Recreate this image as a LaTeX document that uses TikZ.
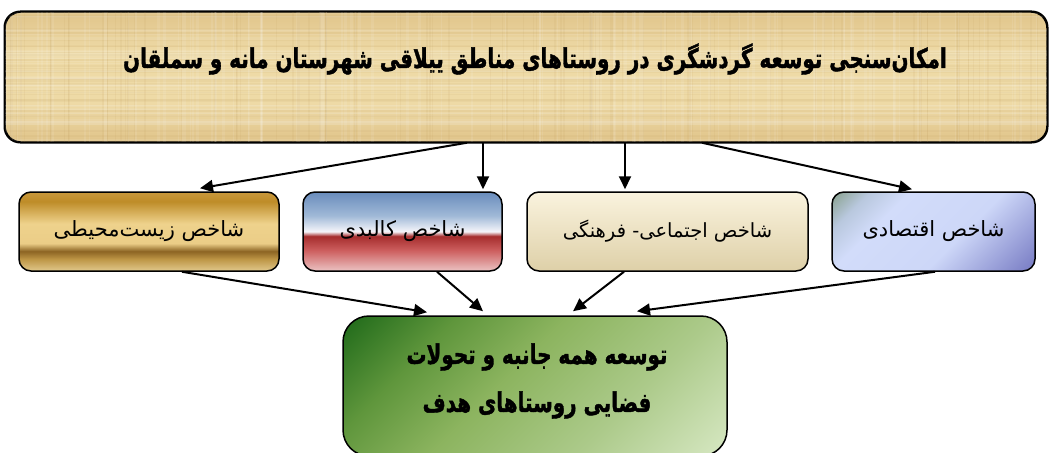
\documentclass[tikz,border=0pt]{standalone}
\usepackage{fontspec}
\usepackage{graphicx}
\usetikzlibrary{arrows.meta}
\TeXXeTstate=1
\newfontfamily\fa[Script=Arabic]{DejaVu Sans}
\newfontfamily\fab[Script=Arabic, FakeBold=1.6]{DejaVu Sans Bold}
\definecolor{papA}{RGB}{224,196,138}
\definecolor{papB}{RGB}{238,218,166}
\definecolor{papdark}{RGB}{185,150,85}
\pgfdeclareverticalshading{papyrus}{100bp}{color(0bp)=(papA); color(25bp)=(papA); color(40bp)=(papB); color(60bp)=(papB); color(75bp)=(papA); color(100bp)=(papA)}
\pgfdeclareverticalshading{goldsh}{100bp}{%
 color(0bp)=(rgb,255:red,225;green,200;blue,140);
 color(25bp)=(rgb,255:red,225;green,200;blue,140);
 color(32.5bp)=(rgb,255:red,190;green,150;blue,70);
 color(37.5bp)=(rgb,255:red,140;green,100;blue,35);
 color(42.5bp)=(rgb,255:red,235;green,205;blue,135);
 color(55bp)=(rgb,255:red,238;green,210;blue,140);
 color(69bp)=(rgb,255:red,190;green,140;blue,40);
 color(75bp)=(rgb,255:red,200;green,152;blue,60);
 color(100bp)=(rgb,255:red,200;green,152;blue,60)}
\pgfdeclareverticalshading{flagsh}{100bp}{%
 color(0bp)=(rgb,255:red,235;green,195;blue,195);
 color(25bp)=(rgb,255:red,235;green,195;blue,195);
 color(38bp)=(rgb,255:red,205;green,95;blue,95);
 color(47bp)=(rgb,255:red,165;green,45;blue,45);
 color(50bp)=(rgb,255:red,245;green,245;blue,250);
 color(60bp)=(rgb,255:red,160;green,185;blue,215);
 color(75bp)=(rgb,255:red,105;green,140;blue,188);
 color(100bp)=(rgb,255:red,105;green,140;blue,188)}
\pgfdeclareverticalshading{creamsh}{100bp}{%
 color(0bp)=(rgb,255:red,222;green,208;blue,168);
 color(25bp)=(rgb,255:red,222;green,208;blue,168);
 color(75bp)=(rgb,255:red,250;green,243;blue,222);
 color(100bp)=(rgb,255:red,250;green,243;blue,222)}
\pgfdeclarehorizontalshading{lavsh}{100bp}{%
 color(0bp)=(rgb,255:red,135;green,160;blue,140);
 color(14.6bp)=(rgb,255:red,135;green,160;blue,140);
 color(24bp)=(rgb,255:red,185;green,200;blue,222);
 color(34bp)=(rgb,255:red,210;green,220;blue,250);
 color(58bp)=(rgb,255:red,205;green,215;blue,248);
 color(85.4bp)=(rgb,255:red,118;green,122;blue,195);
 color(100bp)=(rgb,255:red,118;green,122;blue,195)}
\pgfdeclarehorizontalshading{greensh}{100bp}{%
 color(0bp)=(rgb,255:red,30;green,105;blue,25);
 color(14.6bp)=(rgb,255:red,30;green,105;blue,25);
 color(30bp)=(rgb,255:red,95;green,150;blue,60);
 color(45bp)=(rgb,255:red,140;green,180;blue,95);
 color(65bp)=(rgb,255:red,172;green,202;blue,138);
 color(85.4bp)=(rgb,255:red,215;green,232;blue,195);
 color(100bp)=(rgb,255:red,215;green,232;blue,195)}
\tikzset{
  box/.style={draw=black, line width=1.5pt, rounded corners=12pt, inner sep=0pt},
  rowtext/.style={font=\fa\fontsize{21}{25}\selectfont, inner sep=0pt},
  bigtext/.style={font=\fab\fontsize{27}{32}\selectfont, inner sep=0pt},
  arr/.style={draw=black, line width=2pt, -{Triangle[length=13pt,width=12pt]}}
}
\newcommand{\cond}[1]{\scalebox{0.738}[1]{#1}}
\begin{document}
\begin{tikzpicture}[x=1pt,y=-1pt]
\useasboundingbox (0,0) rectangle (1051,452);
% top box with papyrus texture
\node[box, rounded corners=16pt, shading=papyrus, minimum width=1042pt, minimum height=130pt] (top) at (526,77) {};
\begin{scope}
\clip[rounded corners=16pt] (top.south west) rectangle (top.north east);
\pgfmathsetseed{11}
\foreach \i in {1,...,110}{
  \pgfmathsetmacro\xx{5+1042*rnd}
  \pgfmathsetmacro\ww{0.8+2.5*rnd}
  \draw[white, opacity=0.09, line width=\ww pt] (\xx,12) -- (\xx,142);
}
\foreach \i in {1,...,90}{
  \pgfmathsetmacro\xx{5+1042*rnd}
  \pgfmathsetmacro\ww{0.6+1.8*rnd}
  \draw[papdark, opacity=0.09, line width=\ww pt] (\xx,12) -- (\xx,142);
}
\foreach \i in {1,...,40}{
  \pgfmathsetmacro\yy{12+130*rnd}
  \pgfmathsetmacro\ww{0.8+2.5*rnd}
  \draw[white, opacity=0.09, line width=\ww pt] (5,\yy) -- (1047,\yy);
}
\foreach \i in {1,...,30}{
  \pgfmathsetmacro\yy{12+130*rnd}
  \pgfmathsetmacro\ww{0.6+1.8*rnd}
  \draw[papdark, opacity=0.08, line width=\ww pt] (5,\yy) -- (1047,\yy);
}
\end{scope}
\draw[line width=1.5pt, rounded corners=16pt] (top.south west) rectangle (top.north east);
% other boxes
\node[box, shading=goldsh, minimum width=260pt, minimum height=79pt] (b1) at (149,231.5) {};
\node[box, shading=flagsh, minimum width=199pt, minimum height=79pt] (b2) at (402.5,231.5) {};
\node[box, shading=creamsh, minimum width=281pt, minimum height=79pt] (b3) at (667.5,231.5) {};
\node[box, shading=lavsh, shading angle=-45, minimum width=203pt, minimum height=79pt] (b4) at (933.5,231.5) {};
\node[box, rounded corners=26pt, shading=greensh, shading angle=-45, minimum width=384pt, minimum height=140pt] (bot) at (535,386) {};
% texts
\node[bigtext] (tt) at (535,59) {\cond{\beginR امکان^^^^200cسنجی توسعه گردشگری در روستاهای مناطق ییلاقی شهرستان مانه و سملقان\endR}};
\node[rowtext] (t1) at (b1) {\beginR شاخص زیست^^^^200cمحیطی\endR};
\node[rowtext] (t2) at (b2) {\beginR شاخص کالبدی\endR};
\node[rowtext, font=\fa\fontsize{19.5}{24}\selectfont] (t3) at (b3) {\beginR شاخص اجتماعی- فرهنگی\endR};
\node[rowtext] (t4) at (b4) {\beginR شاخص اقتصادی\endR};
\node[bigtext] (bt1) at (537,357) {\cond{\beginR توسعه همه جانبه و تحولات\endR}};
\node[bigtext] (bt2) at (537,405) {\cond{\beginR فضایی روستاهای هدف\endR}};
% arrows from top
\draw[arr] ([xshift=-59pt]top.south) -- ([xshift=51pt,yshift=3pt]b1.north);
\draw[arr] ([xshift=-43pt]top.south) -- ([xshift=80.5pt,yshift=2pt]b2.north);
\draw[arr] ([xshift=99pt]top.south) -- ([xshift=-42.5pt,yshift=2pt]b3.north);
\draw[arr] ([xshift=176pt]top.south) -- ([xshift=-21.5pt,yshift=2pt]b4.north);
% arrows to bottom
\draw[arr] ([xshift=33pt]b1.south) -- ([xshift=-108pt,yshift=3pt]bot.north);
\draw[arr] ([xshift=34.5pt]b2.south) -- ([xshift=-52pt,yshift=4pt]bot.north);
\draw[arr] ([xshift=-43.5pt]b3.south) -- ([xshift=38pt,yshift=4pt]bot.north);
\draw[arr] ([xshift=1.5pt]b4.south) -- ([xshift=102pt,yshift=4pt]bot.north);
\end{tikzpicture}
\end{document}
